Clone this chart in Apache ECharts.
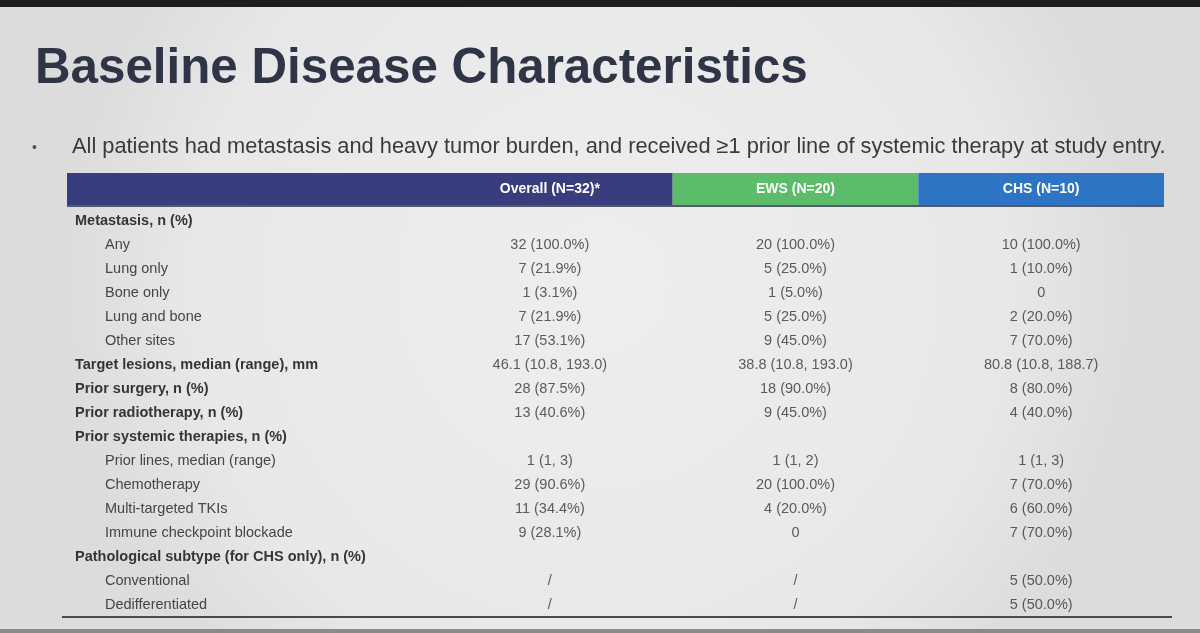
<!DOCTYPE html>
<html>
<head>
    <meta charset="utf-8">
    <title>Baseline Disease Characteristics</title>
    <script src="https://cdn.jsdelivr.net/npm/echarts@6/dist/echarts.min.js"></script>
    <style>
        html, body { margin: 0; padding: 0; background: #e9e9e9; }
    </style>
</head>
<body>
    <div id="main" style="width: 1200px;height:633px;"></div>

    <script type="text/javascript">
        // table content
        var columns = ['Overall (N=32)*', 'EWS (N=20)', 'CHS (N=10)'];
        var headerColors = ['#383d7d', '#5bbd69', '#2e74c4'];

        // level 0 = bold group heading, 1 = indented item
        var rowLabels = [
            'Metastasis, n (%)', 'Any', 'Lung only', 'Bone only', 'Lung and bone', 'Other sites',
            'Target lesions, median (range), mm', 'Prior surgery, n (%)', 'Prior radiotherapy, n (%)',
            'Prior systemic therapies, n (%)', 'Prior lines, median (range)', 'Chemotherapy',
            'Multi-targeted TKIs', 'Immune checkpoint blockade',
            'Pathological subtype (for CHS only), n (%)', 'Conventional', 'Dedifferentiated'
        ];
        var rowLevels = [0, 1, 1, 1, 1, 1, 0, 0, 0, 0, 1, 1, 1, 1, 0, 1, 1];

        var overallVals = ['', '32 (100.0%)', '7 (21.9%)', '1 (3.1%)', '7 (21.9%)', '17 (53.1%)',
            '46.1 (10.8, 193.0)', '28 (87.5%)', '13 (40.6%)', '', '1 (1, 3)', '29 (90.6%)',
            '11 (34.4%)', '9 (28.1%)', '', '/', '/'];
        var ewsVals = ['', '20 (100.0%)', '5 (25.0%)', '1 (5.0%)', '5 (25.0%)', '9 (45.0%)',
            '38.8 (10.8, 193.0)', '18 (90.0%)', '9 (45.0%)', '', '1 (1, 2)', '20 (100.0%)',
            '4 (20.0%)', '0', '', '/', '/'];
        var chsVals = ['', '10 (100.0%)', '1 (10.0%)', '0', '2 (20.0%)', '7 (70.0%)',
            '80.8 (10.8, 188.7)', '8 (80.0%)', '4 (40.0%)', '', '1 (1, 3)', '7 (70.0%)',
            '6 (60.0%)', '7 (70.0%)', '', '5 (50.0%)', '5 (50.0%)'];

        var FONT = '"Liberation Sans", Arial, sans-serif';
        var dom = document.getElementById('main');
        var myChart = echarts.init(dom);

        var rowIdx = rowLabels.map(function (d, i) { return i; });

        // one scatter series per column, text shown as label
        function valueSeries(vals, col) {
            return {
                type: 'scatter',
                xAxisIndex: 1,
                yAxisIndex: 1,
                symbolSize: 0,
                silent: true,
                data: vals.map(function (v, i) { return [col, i, v]; }),
                label: {
                    show: true,
                    position: 'inside',
                    formatter: function (p) { return p.data[2]; },
                    color: '#363636',
                    fontFamily: FONT,
                    fontSize: 14.5
                }
            };
        }

        var option = {
            backgroundColor: {
                type: 'radial', x: 0.5, y: 0.45, r: 0.85,
                colorStops: [{ offset: 0, color: '#eeeeee' }, { offset: 0.75, color: '#e8e8e8' }, { offset: 1, color: '#dcdcdc' }]
            },
            title: [{
                text: 'Baseline Disease Characteristics',
                left: 30, top: 40,
                textStyle: { fontFamily: FONT, fontSize: 49.3, fontWeight: 'bold', color: '#2f3447' }
            }, {
                text: '•',
                left: 27, top: 136,
                textStyle: { fontFamily: FONT, fontSize: 14, fontWeight: 'normal', color: '#555' }
            }, {
                text: 'All patients had metastasis and heavy tumor burden, and received \u22651 prior line of systemic therapy at study entry.',
                left: 67, top: 131,
                textStyle: { fontFamily: FONT, fontSize: 21.8, fontWeight: 'normal', color: '#3a3a3a' }
            }],
            grid: [
                // row labels
                { left: 67, right: 36, top: 209, bottom: 16 },
                // value columns
                { left: 427, right: 36, top: 209, bottom: 16 },
                // header bar
                { left: 427, right: 36, top: 173, height: 33 }
            ],
            xAxis: [
                { gridIndex: 0, type: 'value', min: 0, max: 1, show: false },
                { gridIndex: 1, type: 'category', data: columns, show: false },
                { gridIndex: 2, type: 'category', data: columns, show: false }
            ],
            yAxis: [
                {
                    gridIndex: 0, type: 'category', data: rowLabels, inverse: true,
                    axisLine: { show: false }, axisTick: { show: false }, splitLine: { show: false },
                    axisLabel: {
                        inside: true, margin: 8, interval: 0,
                        formatter: function (v, i) {
                            return rowLevels[i] === 0 ? '{h|' + v + '}' : '{s|' + v + '}';
                        },
                        rich: {
                            h: { fontFamily: FONT, fontSize: 14.5, fontWeight: 'bold', color: '#353535' },
                            s: { fontFamily: FONT, fontSize: 14.5, color: '#454545', padding: [0, 0, 0, 30] }
                        }
                    }
                },
                { gridIndex: 1, type: 'category', data: rowIdx, inverse: true, show: false },
                { gridIndex: 2, type: 'value', min: 0, max: 1, show: false }
            ],
            series: [
                {
                    type: 'bar',
                    xAxisIndex: 2,
                    yAxisIndex: 2,
                    barCategoryGap: 0,
                    silent: true,
                    data: columns.map(function (c, i) {
                        return { value: 1, itemStyle: { color: headerColors[i] } };
                    }),
                    label: {
                        show: true,
                        position: 'inside',
                        formatter: function (p) { return p.name; },
                        color: '#ffffff',
                        fontFamily: FONT,
                        fontWeight: 'bold',
                        fontSize: 14
                    }
                },
                valueSeries(overallVals, 0),
                valueSeries(ewsVals, 1),
                valueSeries(chsVals, 2)
            ],
            graphic: [
                // projector edge at the top
                { type: 'rect', left: 0, top: 0, shape: { width: 1200, height: 7 }, style: { fill: '#1e1e1e' }, z: 100 },
                // navy part of header over the label column
                { type: 'rect', left: 67, top: 173, shape: { width: 361, height: 33 }, style: { fill: headerColors[0] }, z: 1 },
                // header bottom shadow
                { type: 'rect', left: 67, top: 205, shape: { width: 1097, height: 2 }, style: { fill: '#555a6a' }, z: 5 },
                // table bottom rule
                { type: 'rect', left: 62, top: 616, shape: { width: 1110, height: 2 }, style: { fill: '#4a4a4a' }, z: 5 },
                // bottom edge of the slide
                { type: 'rect', left: 0, top: 629, shape: { width: 1200, height: 4 }, style: { fill: '#8a8a8a' }, z: 5 }
            ]
        };

        myChart.setOption(option);
    </script>
</body>
</html>
